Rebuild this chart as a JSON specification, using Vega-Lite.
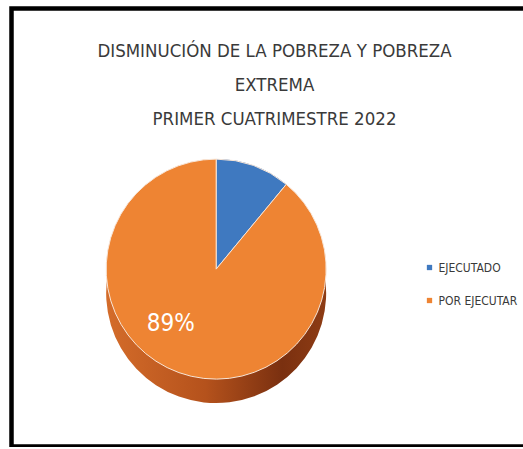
{
  "$schema": "https://vega.github.io/schema/vega-lite/v6.json",
  "width": 540,
  "height": 438,
  "autosize": {"type": "none"},
  "padding": {"left": 11.5, "top": 8.5, "right": 0, "bottom": 0},
  "background": "white",
  "config": {"view": {"stroke": "black", "strokeWidth": 4.5}},
  "title": {
    "text": ["DISMINUCIÓN DE LA POBREZA  Y POBREZA", "EXTREMA", "PRIMER CUATRIMESTRE 2022"],
    "font": "DejaVu Sans Condensed, Roboto Condensed, Roboto",
    "fontSize": 18.5,
    "fontWeight": "normal",
    "color": "#3A3A3A",
    "lineHeight": 34,
    "anchor": "middle",
    "frame": "group",
    "offset": -120,
    "dx": -7
  },
  "data": {
    "values": [
      {"categoria": "EJECUTADO", "valor": 11, "etiqueta": ""},
      {"categoria": "POR EJECUTAR", "valor": 89, "etiqueta": "89%"}
    ]
  },
  "encoding": {
    "x": {"datum": 0.379, "type": "quantitative", "scale": {"domain": [0, 1]}, "axis": null},
    "y": {"datum": 0.595, "type": "quantitative", "scale": {"domain": [0, 1], "reverse": true}, "axis": null},
    "theta": {"field": "valor", "type": "quantitative", "stack": true}
  },
  "layer": [
    {
      "mark": {
        "type": "arc",
        "outerRadius": 110,
        "yOffset": 24,
        "fill": {
          "gradient": "linear",
          "x1": 0, "y1": 0, "x2": 1, "y2": 0,
          "stops": [
            {"offset": 0, "color": "#D46C2A"},
            {"offset": 0.45, "color": "#B5521C"},
            {"offset": 0.8, "color": "#7A3010"},
            {"offset": 1, "color": "#8E3C14"}
          ]
        },
        "stroke": null
      },
      "encoding": {"order": {"field": "categoria"}}
    },
    {
      "mark": {"type": "arc", "outerRadius": 110, "stroke": "#F8E6D8", "strokeWidth": 1},
      "encoding": {
        "color": {
          "field": "categoria",
          "type": "nominal",
          "scale": {"domain": ["EJECUTADO", "POR EJECUTAR"], "range": ["#3F79C0", "#EE8433"]},
          "legend": {
            "orient": "none",
            "legendX": 412,
            "legendY": 253,
            "title": null,
            "symbolType": "square",
            "symbolSize": 28,
            "symbolStrokeWidth": 0,
            "labelFont": "DejaVu Sans Condensed, Roboto Condensed, Roboto",
            "labelFontSize": 12,
            "labelColor": "#3A3A3A",
            "labelOffset": 3,
            "rowPadding": 21
          }
        },
        "order": {"field": "categoria"}
      }
    },
    {
      "mark": {
        "type": "text",
        "radius": 71,
        "thetaOffset": 0.35,
        "font": "DejaVu Sans Condensed, Roboto Condensed, Roboto",
        "fontSize": 24,
        "color": "white"
      },
      "encoding": {
        "text": {"field": "etiqueta"},
        "order": {"field": "categoria"}
      }
    }
  ]
}
